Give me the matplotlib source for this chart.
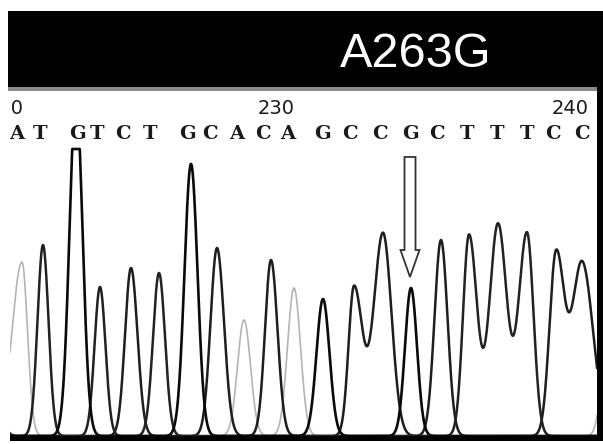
import numpy as np
import matplotlib
matplotlib.use("Agg")
import matplotlib.pyplot as plt
from matplotlib.patches import Rectangle, FancyArrow

# base calls shown above the trace (position on the scan axis)
bases = ["A", "T", "G", "T", "C", "T", "G", "C", "A", "C", "A",
         "G", "C", "C", "G", "C", "T", "T", "T", "C", "C"]
base_pos = [17, 40, 77, 97, 123, 150, 187, 210, 237, 263, 288,
            322, 350, 380, 410, 437, 467, 497, 527, 553, 582]
first_base_number = 220
number_step = 10

mutation_label = "A263G"
mutation_pos = 410

# peaks of each dye channel: centre, height, left width, right width
a_pos = [22, 244, 294, 610]
a_height = [174, 116, 148, 150]
a_wl = [10, 6.5, 6.5, 6.5]
a_wr = [5.5, 6.5, 6.5, 6.5]

c_pos = [131, 217, 271, 354, 383, 441, 556, 582]
c_height = [168, 188, 176, 149, 203, 196, 181, 174]
c_wl = [6, 6.5, 6, 5.5, 9.2, 6.5, 6.5, 9.8]
c_wr = [6.5, 7, 6.5, 8.4, 8.5, 6.5, 8.2, 11]

g_pos = [76, 191, 323, 411]
g_height = [340, 272, 137, 148]
g_wl = [6.5, 6.5, 6.5, 6]
g_wr = [6.5, 6.5, 6.5, 6]
g_saturation = 287

t_pos = [-5, 43, 100, 159, 469, 498, 527]
t_height = [60, 191, 149, 163, 201, 212, 203]
t_wl = [6, 5.5, 5.5, 6, 6, 8.5, 8.4]
t_wr = [6, 5.5, 5.5, 6, 8.0, 8.8, 6.5]


def channel(x, pos, height, wl, wr):
    """Sum of (asymmetric) gaussian peaks for one dye channel"""
    y = np.zeros_like(x)
    for c, h, l, r in zip(pos, height, wl, wr):
        s = np.where(x < c, l, r)
        y += h * np.exp(-0.5 * ((x - c) / s) ** 2)
    return y


fig = plt.figure(figsize=(6.03, 4.44), dpi=100)

# frame, title band and borders in pixel coordinates
bg = fig.add_axes([0, 0, 1, 1])
bg.set_xlim(0, 603)
bg.set_ylim(444, 0)
bg.axis("off")
bg.add_patch(Rectangle((8, 11), 595, 76, color="black", lw=0))
bg.add_patch(Rectangle((8, 87), 590, 4, color="#8a8a8a", lw=0))
bg.add_patch(Rectangle((597, 87), 6, 354, color="black", lw=0))
bg.add_patch(Rectangle((10, 436), 587, 5, color="black", lw=0))
bg.text(416, 67, mutation_label, color="white", fontsize=35, family="Liberation Sans",
        ha="center", va="baseline")

# chromatogram panel
ax = fig.add_axes([10 / 603, 8 / 444, 587 / 603, 346 / 444])
ax.patch.set_alpha(0)
ax.set_xlim(10, 597)
ax.set_ylim(0, 346)
ax.axis("off")

x = np.linspace(-20, 630, 3000)
ax.plot(x, channel(x, a_pos, a_height, a_wl, a_wr), color="#b4b4b4", lw=1.2)
ax.plot(x, channel(x, c_pos, c_height, c_wl, c_wr), color="#1e1e1e", lw=1.8)
ax.plot(x, channel(x, t_pos, t_height, t_wl, t_wr), color="#222222", lw=1.8)
g = np.minimum(channel(x, g_pos, g_height, g_wl, g_wr), g_saturation)
ax.plot(x, g, color="#0a0a0a", lw=1.9)

# base letters and position numbers
for i, (b, p) in enumerate(zip(bases, base_pos)):
    ax.text(p, 302, b, family="DejaVu Serif", fontweight="bold", fontsize=14,
            ha="center", va="center", color="#1a1a1a", clip_on=True)
    if i % number_step == 0:
        ax.text(p + 7, 327, str(first_base_number + i), family="DejaVu Sans", fontsize=14,
                ha="right", va="center", color="#1a1a1a", clip_on=True)

# arrow pointing at the mutated base
ax.add_patch(FancyArrow(mutation_pos, 279, 0, -120, width=11, head_width=19, head_length=27,
                        length_includes_head=True, fc="white", ec="#333333", lw=1.3))

plt.savefig("out.png", dpi=100)
